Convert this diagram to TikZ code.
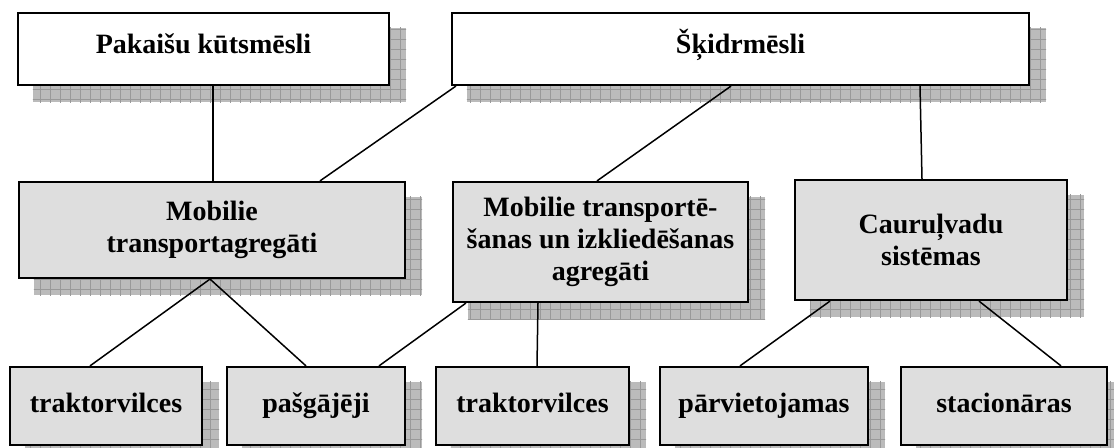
\documentclass[tikz,border=0pt]{standalone}
\usepackage{fontspec}
\setmainfont{Liberation Serif}
\usetikzlibrary{calc,backgrounds}
\definecolor{boxgray}{HTML}{DEDEDE}
\definecolor{shfill}{HTML}{BBBBBB}
\definecolor{shgrid}{HTML}{999999}
\newcommand\boxshadow[1]{%
  \begin{scope}
    \clip ($(#1.north west)+(16,16)$) rectangle ($(#1.south east)+(16,16)$);
    \fill[shfill] ($(#1.north west)+(16,16)$) rectangle ($(#1.south east)+(16,16)$);
    \draw[shgrid, line width=0.5pt, step=5pt] (0,0) grid (1200,500);
  \end{scope}}
\tikzset{
  x=0.5pt, y=-0.5pt,
  box/.style={draw, line width=1.1pt, align=center, inner sep=0pt,
    font=\bfseries\fontsize{14}{16}\selectfont},
  topbox/.style={box, fill=white, text height=10pt, text depth=5pt},
  graybox/.style={box, fill=boxgray},
  lowbox/.style={graybox, minimum height=39pt, text height=10pt, text depth=3pt},
  conn/.style={line width=0.75pt}
}
\begin{document}
\begin{tikzpicture}
\useasboundingbox (0,0) rectangle (1114,448);
% top row
\node[topbox, minimum width=185.5pt, minimum height=36pt] (A) at (203.5,49) {Pakaišu kūtsmēsli};
\node[topbox, minimum width=288.5pt, minimum height=36pt] (B) at (740.5,49) {Šķidrmēsli};
% middle row
\node[graybox, minimum width=193pt, minimum height=48pt] (C) at (212,230) {Mobilie\\transportagregāti};
\node[graybox, minimum width=147.5pt, minimum height=60pt] (D) at (600.5,242) {Mobilie transportē-\\šanas un izkliedēšanas\\agregāti};
\node[graybox, minimum width=136pt, minimum height=60pt] (E) at (931,240) {Cauruļvadu\\sistēmas};
% bottom row
\node[lowbox, minimum width=96pt] (F) at (106,406) {traktorvilces};
\node[lowbox, minimum width=89pt] (G) at (316,406) {pašgājēji};
\node[lowbox, minimum width=96.5pt] (H) at (532.5,406) {traktorvilces};
\node[lowbox, minimum width=104pt] (I) at (764,406) {pārvietojamas};
\node[lowbox, minimum width=103pt] (J) at (1004,406) {stacionāras};
% shadows
\begin{pgfonlayer}{background}
  \boxshadow{A}\boxshadow{B}\boxshadow{C}\boxshadow{D}\boxshadow{E}
  \boxshadow{F}\boxshadow{G}\boxshadow{H}\boxshadow{I}\boxshadow{J}
\end{pgfonlayer}
% connectors
\draw[conn] ($(A.south)+(9.5,0)$) -- ($(C.north)+(1,0)$);
\draw[conn] ($(B.south west)+(5,0)$) -- ($(C.north)+(108,0)$);
\draw[conn] ($(B.south)+(-9.5,0)$) -- ($(D.north)+(-3.5,0)$);
\draw[conn] ($(B.south)+(179.5,0)$) -- ($(E.north)+(-9,0)$);
\draw[conn] ($(C.south)+(-2,0)$) -- ($(F.north)+(-16,0)$);
\draw[conn] ($(C.south)+(-2,0)$) -- ($(G.north)+(-10,0)$);
\draw[conn] ($(D.south west)+(14,0)$) -- ($(G.north)+(63,0)$);
\draw[conn] ($(D.south)+(-62.5,0)$) -- ($(H.north)+(4.5,0)$);
\draw[conn] ($(E.south)+(-101,0)$) -- ($(I.north)+(-24,0)$);
\draw[conn] ($(E.south)+(48,0)$) -- ($(J.north)+(57,0)$);
\end{tikzpicture}
\end{document}
